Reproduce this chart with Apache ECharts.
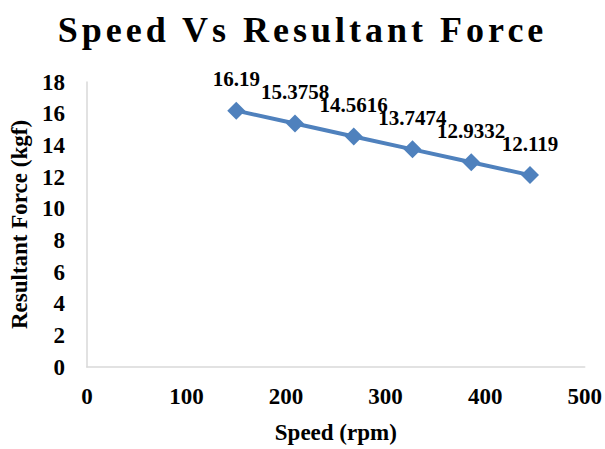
<!DOCTYPE html>
<html>
<head>
<meta charset="utf-8">
<script src="https://cdn.jsdelivr.net/npm/echarts@6/dist/echarts.min.js"></script>
<style>
  html, body { margin: 0; padding: 0; background: #fff; }
  #chart { width: 605px; height: 449px; }
</style>
</head>
<body>
<div id="chart"></div>
<script>
// Speed (rpm) and the resultant force measured at each speed (kgf)
const speeds = [150, 209, 268, 327, 386, 445];
const forces = [16.19, 15.3758, 14.5616, 13.7474, 12.9332, 12.119];
const titleText = 'Speed Vs Resultant Force';
const xName = 'Speed (rpm)';
const yName = 'Resultant Force (kgf)';

const serif = '"Liberation Serif", "Times New Roman", serif';
const points = speeds.map((s, i) => [s, forces[i]]);

const chart = echarts.init(document.getElementById('chart'), null, { renderer: 'svg' });
chart.setOption({
  backgroundColor: '#ffffff',
  animation: false,
  title: {
    text: titleText,
    left: 'center',
    top: 7,
    textStyle: { fontFamily: serif, fontWeight: 'bold', fontSize: 36, color: '#000' }
  },
  grid: { left: 86, right: 20, top: 82, bottom: 79 },
  xAxis: {
    type: 'value',
    min: 0, max: 500, interval: 100,
    name: xName,
    nameLocation: 'middle',
    nameGap: 54,
    nameTextStyle: { fontFamily: serif, fontWeight: 'bold', fontSize: 23, color: '#000' },
    axisLine: { show: true, lineStyle: { color: '#d9d9d9', width: 1.5 } },
    axisTick: { show: false },
    splitLine: { show: false },
    axisLabel: { fontFamily: serif, fontWeight: 'bold', fontSize: 23, color: '#000', margin: 18 }
  },
  yAxis: {
    type: 'value',
    min: 0, max: 18, interval: 2,
    name: yName,
    nameLocation: 'middle',
    nameGap: 52,
    nameTextStyle: { fontFamily: serif, fontWeight: 'bold', fontSize: 23, color: '#000' },
    axisLine: { show: true, lineStyle: { color: '#d9d9d9', width: 1.5 } },
    axisTick: { show: false },
    splitLine: { show: false },
    axisLabel: { fontFamily: serif, fontWeight: 'bold', fontSize: 23, color: '#000', margin: 22, padding: [6, 0, 0, 0] }
  },
  series: [{
    type: 'line',
    data: points,
    symbol: 'diamond',
    symbolSize: 18,
    lineStyle: { color: '#4f81bd', width: 4 },
    itemStyle: { color: '#4f81bd' },
    label: {
      show: true,
      position: 'top',
      distance: 12,
      fontFamily: serif,
      fontWeight: 'bold',
      fontSize: 21,
      color: '#000',
      formatter: p => String(p.value[1])
    }
  }]
});

// Spread the title letters out a little
function spaceTitle() {
  document.querySelectorAll('#chart svg text').forEach(t => {
    if (t.textContent === titleText) t.style.letterSpacing = '4px';
  });
}
chart.on('finished', spaceTitle);
spaceTitle();
</script>
</body>
</html>
